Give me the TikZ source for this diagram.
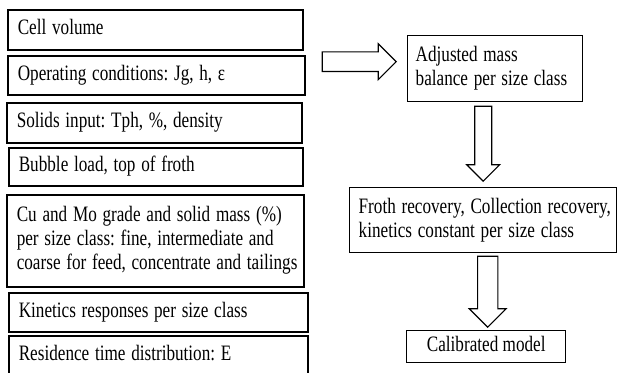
\documentclass[tikz,border=0pt]{standalone}
\usepackage{fontspec}
\setmainfont{Liberation Serif}
\frenchspacing
\usepackage{tikz}
\usetikzlibrary{positioning,calc,shapes.arrows}

% narrow text, as in the scanned figure
\newcommand{\nartext}[1]{\scalebox{0.78}[1]{\begin{tabular}{@{}l@{}}#1\end{tabular}}}

\tikzset{
  inbox/.style={draw, line width=1.6pt, anchor=north west, inner xsep=10pt, inner ysep=0pt,
    align=left, font=\fontsize{22}{24}\selectfont},
  outbox/.style={draw, line width=1.4pt, inner ysep=0pt, font=\fontsize{22}{24}\selectfont},
  hollowarrow/.style={single arrow, draw, line width=1.1pt, inner xsep=0pt,
    text height=0pt, text depth=0pt, single arrow head indent=0pt}
}

\begin{document}
\begin{tikzpicture}[x=1pt,y=-1pt]
  \path[use as bounding box] (0,0) rectangle (618,372);
  \clip (0,0) rectangle (618,372);

  % input data
  \node[inbox, text width=275pt, minimum height=40pt] (cellvol) at (7,9) {\nartext{Cell volume}};
  \node[inbox, text width=277pt, minimum height=39pt] (opcond) at (7,55) {\nartext{Operating conditions: Jg, h, ε}};
  \node[inbox, text width=275pt, minimum height=40pt] (solids) at (6,102) {\nartext{Solids input: Tph, \%, density}};
  \node[inbox, text width=274pt, minimum height=38pt] (bubble) at (8,147) {\nartext{Bubble load, top of froth}};
  \node[inbox, text width=277pt, minimum height=92pt] (grade) at (6,194)
    {\nartext{Cu and Mo grade and solid mass (\%)\\per size class: fine, intermediate and\\coarse for feed, concentrate and tailings}};
  \node[inbox, text width=279pt, minimum height=39pt] (kinresp) at (8,292) {\nartext{Kinetics responses per size class}};
  \node[inbox, text width=279pt, minimum height=40pt] (restime) at (8,335) {\nartext{Residence time distribution: E}};

  % results
  \node[outbox, anchor=north west, align=left, inner xsep=8pt, text width=159pt, minimum height=66pt]
    (adj) at (407,35) {\nartext{Adjusted mass\\balance per size class}};
  \node[outbox, anchor=north west, align=left, inner xsep=9pt, text width=249pt, minimum height=65pt]
    (froth) at (349,187) {\nartext{Froth recovery, Collection recovery,\\kinetics constant per size class}};
  \node[outbox, anchor=north west, minimum width=159pt, minimum height=32pt]
    (calib) at (406,330) {\nartext{Calibrated model}};

  % block arrows
  \node[hollowarrow, anchor=tip, inner ysep=8pt, minimum width=36pt, minimum height=74pt]
    (arr1) at ([xshift=-10pt,yshift=7pt]adj.west) {};
  \node[hollowarrow, rotate=-90, anchor=tip, inner ysep=7pt, minimum width=33pt, minimum height=75pt]
    (arr2) at ([yshift=5pt]froth.north) {};
  \node[hollowarrow, rotate=-90, anchor=tip, inner ysep=8pt, minimum width=37pt, minimum height=71pt]
    (arr3) at ([xshift=1.5pt,yshift=2pt]calib.north) {};
\end{tikzpicture}
\end{document}
